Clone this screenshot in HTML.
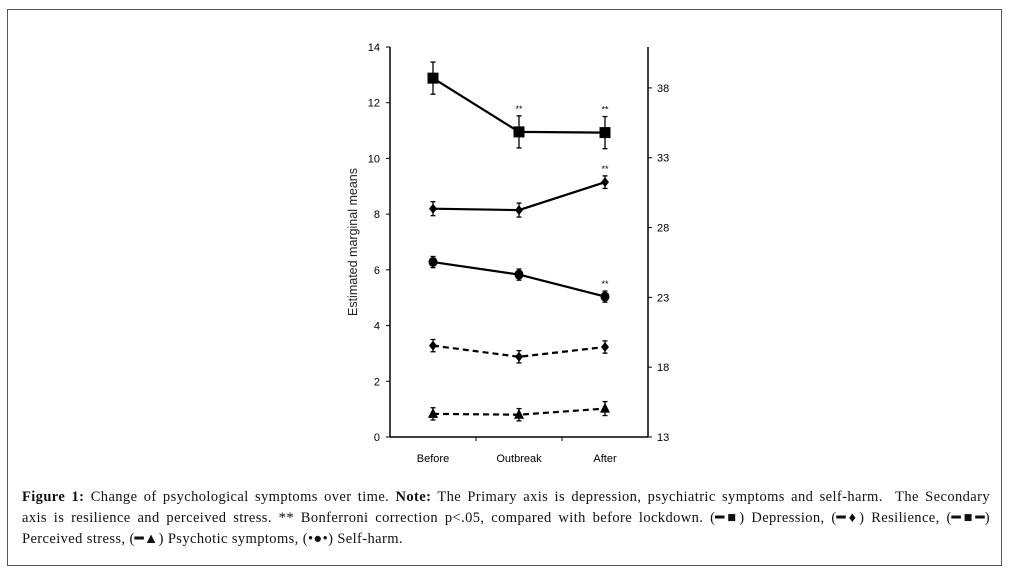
<!DOCTYPE html>
<html><head><meta charset="utf-8"><style>
body{margin:0;background:#fff;width:1012px;height:582px;overflow:hidden;font-family:"Liberation Serif",serif}
#frame{position:absolute;left:7px;top:9px;width:995px;height:557px;border:1px solid #555;box-sizing:border-box}
#cap{position:absolute;left:22px;top:487px;width:968px;font-size:14.5px;letter-spacing:0.4px;line-height:21px;color:#111}
#cap div{text-align:justify;text-align-last:justify;white-space:nowrap;overflow:visible}
#cap div.last{text-align-last:left}
</style></head><body>
<div id="frame"></div>
<svg id="chart" width="1012" height="582" style="position:absolute;left:0;top:0" font-family="Liberation Sans, sans-serif"></svg>
<div id="cap">
<div style="white-space:normal"><b>Figure 1:</b> Change of psychological symptoms over time. <b>Note:</b> The Primary axis is depression, psychiatric symptoms and self-harm.&nbsp; The Secondary</div>
<div style="white-space:normal">axis is resilience and perceived stress. ** Bonferroni correction p&lt;.05, compared with before lockdown. (<b>━■</b>) Depression, (<b>━♦</b>) Resilience, (<b>━■━</b>)</div>
<div class="last">Perceived stress, (<b>━▲</b>) Psychotic symptoms, (•●•) Self-harm.</div>
</div>
<script>
const categories=["Before","Outbreak","After"];
const leftTicks=[0,2,4,6,8,10,12,14];
const rightTicks=[13,18,23,28,33,38];
const stressVals=[38.7,34.85,34.8];      // right axis, squares
const stressErr=[1.15,1.15,1.15];
const resilVals=[29.35,29.25,31.25];     // right axis, diamonds
const resilErr=[0.5,0.5,0.45];
const depVals=[6.28,5.83,5.04];          // left axis
const depErr=[0.2,0.2,0.2];
const selfVals=[3.28,2.88,3.23];         // left, dashed
const selfErr=[0.22,0.22,0.22];
const psyVals=[0.83,0.8,1.02];           // left, dashed triangle
const psyErr=[0.22,0.22,0.25];
const stars=[[1,0,"stress"],[2,0,"stress"],[2,0,"resil"],[2,0,"dep"]];
const svg=document.getElementById('chart');const NS="http://www.w3.org/2000/svg";
const X0=390,X1=648,Y0=437,Y1=47;
const yL=v=>Y0-(v/14)*(Y0-Y1);
const yR=v=>Y0-((v-13)/27.93)*(Y0-Y1);
const xC=i=>433+i*86;
function el(t,a,name){const e=document.createElementNS(NS,t);for(const k in a)e.setAttribute(k,a[k]);


svg.appendChild(e);return e;}
el('line',{x1:X0,y1:Y1,x2:X0,y2:Y0,stroke:'#000','stroke-width':1.5},'left-axis');
el('line',{x1:X1,y1:Y1,x2:X1,y2:Y0,stroke:'#000','stroke-width':1.5},'right-axis');
el('line',{x1:X0,y1:Y0,x2:X1,y2:Y0,stroke:'#000','stroke-width':1.5},'x-axis');
[476,562].forEach(x=>el('line',{x1:x,y1:Y0,x2:x,y2:Y0+4,stroke:'#000'},'x-tick'));
leftTicks.forEach(v=>{el('line',{x1:X0-4,y1:yL(v),x2:X0,y2:yL(v),stroke:'#000'},'left-tick');
const t=el('text',{x:X0-10,y:yL(v)+4,'font-size':11,'text-anchor':'end'},'left-tick-label');t.textContent=v;});
rightTicks.forEach(v=>{el('line',{x1:X1,y1:yR(v),x2:X1+4,y2:yR(v),stroke:'#000'},'right-tick');
const t=el('text',{x:X1+9,y:yR(v)+4,'font-size':11},'right-tick-label');t.textContent=v;});
categories.forEach((c,i)=>{const t=el('text',{x:xC(i),y:462,'font-size':11,'text-anchor':'middle'},'x-tick-label');t.textContent=c;});
const yt=el('text',{x:357,y:242,'font-size':12.5,'text-anchor':'middle',transform:'rotate(-90 357 242)',fill:'#222'},'y-axis-title');yt.textContent="Estimated marginal means";
function series(vals,err,sc,dash,marker,name){
const pts=vals.map((v,i)=>xC(i)+','+sc(v)).join(' ');
el('polyline',{points:pts,fill:'none',stroke:'#000','stroke-width':2.2,'stroke-dasharray':dash||'none'},name+'-line');
vals.forEach((v,i)=>{const x=xC(i),y=sc(v),ya=sc(v+err[i]),yb=sc(v-err[i]);
el('line',{x1:x,y1:ya,x2:x,y2:yb,stroke:'#000','stroke-width':1.3},name+'-error-bar');
el('line',{x1:x-2.5,y1:ya,x2:x+2.5,y2:ya,stroke:'#000','stroke-width':1.3},name+'-error-cap');
el('line',{x1:x-2.5,y1:yb,x2:x+2.5,y2:yb,stroke:'#000','stroke-width':1.3},name+'-error-cap');
if(marker==='sq')el('rect',{x:x-5.5,y:y-5.5,width:11,height:11},name+'-point');
else if(marker==='dia')el('polygon',{points:`${x},${y-5} ${x+4},${y} ${x},${y+5} ${x-4},${y}`},name+'-point');
else if(marker==='tri')el('polygon',{points:`${x},${y-6} ${x+5},${y+4} ${x-5},${y+4}`},name+'-point');
else el('ellipse',{cx:x,cy:y,rx:4.5,ry:5},name+'-point');});}
series(stressVals,stressErr,yR,null,'sq','perceived-stress');
series(resilVals,resilErr,yR,null,'dia','resilience');
series(depVals,depErr,yL,null,'circ','depression');
series(selfVals,selfErr,yL,'6,4','dia','self-harm');
series(psyVals,psyErr,yL,'6,4','tri','psychotic-symptoms');
const ref={stress:[stressVals,stressErr,yR],resil:[resilVals,resilErr,yR],dep:[depVals,depErr,yL]};
stars.forEach(s=>{const [v,e,sc]=ref[s[2]];const t=el('text',{x:xC(s[0]),y:sc(v[s[0]]+e[s[0]])-4,'font-size':9,'text-anchor':'middle'},'significance-marker');t.textContent='**';});
</script>
</body></html>
